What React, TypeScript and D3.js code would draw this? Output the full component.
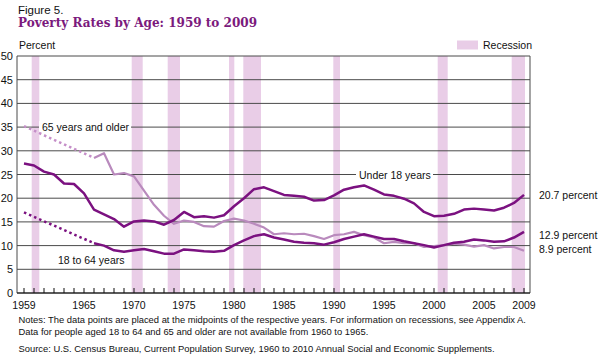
import React from "react";
import * as d3 from "d3";

const years = d3.range(1959, 2010);
const under18 = [27.3,26.9,25.6,25.0,23.1,23.0,21.0,17.6,16.6,15.6,14.0,15.1,15.3,15.1,14.4,15.4,17.1,16.0,16.2,15.9,16.4,18.3,20.0,21.9,22.3,21.5,20.7,20.5,20.3,19.5,19.6,20.6,21.8,22.3,22.7,21.8,20.8,20.5,19.9,18.9,17.1,16.2,16.3,16.7,17.6,17.8,17.6,17.4,18.0,19.0,20.7];
// 1966 onward (annual)
const years1864 = d3.range(1966, 2010);
const age1864 = [10.5,10.0,9.0,8.7,9.0,9.3,8.8,8.3,8.3,9.2,9.0,8.8,8.7,8.9,10.1,11.1,12.0,12.4,11.7,11.3,10.8,10.6,10.5,10.2,10.7,11.4,11.9,12.4,11.9,11.4,11.4,10.9,10.5,10.1,9.6,10.1,10.6,10.8,11.3,11.1,10.8,10.9,11.7,12.9];
const age65 = [28.5,29.5,25.0,25.3,24.6,21.6,18.6,16.3,14.6,15.3,15.0,14.1,14.0,15.2,15.7,15.3,14.6,13.8,12.4,12.6,12.4,12.5,12.0,11.4,12.2,12.4,12.9,12.2,11.7,10.5,10.8,10.5,10.5,9.7,9.9,10.1,10.4,10.2,9.8,10.1,9.4,9.7,9.7,8.9];
const age1864_1959 = 17.0;
const age65_1959 = 35.2;
const recessions: [number, number][] = [[1960.27,1961.03],[1970.27,1971.37],[1973.87,1975.1],[1980.0,1980.53],[1981.43,1983.2],[1990.43,1991.1],[2000.87,2001.87],[2008.27,2009.6]];
const yTicks = [0,5,10,15,20,25,30,35,40,45,50];
const xTickLabels = [1959,1965,1970,1975,1980,1985,1990,1995,2000,2005,2009];

const DARK = "#7b1180";
const LIGHT = "#b98abd";
const LIGHTDOT = "#c58ec8";
const BAND = "#e9cde7";
const GRID = "#4a4a4a";
const SANS = "'Liberation Sans', Arial, sans-serif";

export default function App() {
  const x = d3.scaleLinear().domain([1959, 2009]).range([24, 524]);
  const y = d3.scaleLinear().domain([0, 50]).range([293, 56]);
  const left = x(1958.3);
  const right = x(2009.6);
  const line = d3.line<[number, number]>().x(d => x(d[0])).y(d => y(d[1]));

  const u18: [number, number][] = years.map((yr, i) => [yr, under18[i]]);
  const a1864: [number, number][] = years1864.map((yr, i) => [yr, age1864[i]]);
  const a65: [number, number][] = years1864.map((yr, i) => [yr, age65[i]]);
  const dot1864: [number, number][] = [[1959, age1864_1959], [1966, age1864[0]]];
  const dot65: [number, number][] = [[1959, age65_1959], [1966, age65[0]]];

  return (
    <svg width={600} height={356} style={{ position: "absolute", left: 0, top: 0, background: "#fff" }}>
      <rect width={600} height={356} fill="#fff" />
      <text x={18} y={13.5} fontFamily={SANS} fontSize={11.5} fill="#111">Figure 5.</text>
      <text x={18} y={27} fontFamily="'DejaVu Serif', serif" fontWeight="bold" fontSize={13.5} fill="#7b1a7d" textLength={239} lengthAdjust="spacingAndGlyphs">Poverty Rates by Age: 1959 to 2009</text>
      <text x={19} y={49} fontFamily={SANS} fontSize={10.5} fill="#111">Percent</text>

      {/* legend */}
      <rect x={457} y={40.5} width={21} height={9} fill={BAND} />
      <text x={483} y={49} fontFamily={SANS} fontSize={10.5} fill="#111">Recession</text>

      {/* recession bands */}
      {recessions.map(([s, e], i) => (
        <rect key={i} x={x(s - 0.5)} y={y(50)} width={Math.min(x(e - 0.5), right) - x(s - 0.5)} height={y(0) - y(50)} fill={BAND} />
      ))}

      {/* gridlines */}
      {yTicks.map(t => (
        <g key={t}>
          <line x1={left} x2={right} y1={y(t)} y2={y(t)} stroke={GRID} strokeWidth={1} />
          <text x={13} y={y(t) + 4} textAnchor="end" fontFamily={SANS} fontSize={11} fill="#111">{t}</text>
        </g>
      ))}
      <line x1={left} x2={left} y1={y(50)} y2={y(0)} stroke={GRID} strokeWidth={1} />
      <line x1={right} x2={right} y1={y(50)} y2={y(0)} stroke={GRID} strokeWidth={1} />
      <line x1={left} x2={right} y1={y(0)} y2={y(0)} stroke="#111" strokeWidth={1} />

      {/* x ticks */}
      {years.map(yr => (
        <line key={yr} x1={x(yr)} x2={x(yr)} y1={y(0)} y2={y(0) - 5} stroke="#111" strokeWidth={1} />
      ))}
      {xTickLabels.map(yr => (
        <text key={yr} x={x(yr)} y={309} textAnchor="middle" fontFamily={SANS} fontSize={10.5} fill="#111">{yr}</text>
      ))}

      {/* label backgrounds on gridlines */}
      <rect x={39} y={y(35) - 6} width={92} height={12} fill="#fff" />
      <text x={42} y={y(35) + 4} fontFamily={SANS} fontSize={10.5} fill="#111">65 years and older</text>
      <rect x={356} y={y(25) - 6} width={77} height={12} fill="#fff" />
      <text x={359} y={y(25) + 4} fontFamily={SANS} fontSize={10.5} fill="#111">Under 18 years</text>
      <text x={58} y={264} fontFamily={SANS} fontSize={10.5} fill="#111">18 to 64 years</text>

      {/* lines */}
      <path d={line(dot65) || ""} fill="none" stroke={LIGHTDOT} strokeWidth={2.5} strokeDasharray="2.5,3" />
      <path d={line(a65) || ""} fill="none" stroke={LIGHT} strokeWidth={2.2} strokeLinejoin="round" />
      <path d={line(dot1864) || ""} fill="none" stroke={DARK} strokeWidth={2.5} strokeDasharray="2.5,3" />
      <path d={line(a1864) || ""} fill="none" stroke={DARK} strokeWidth={2.5} strokeLinejoin="round" />
      <path d={line(u18) || ""} fill="none" stroke={DARK} strokeWidth={2.5} strokeLinejoin="round" />

      {/* end labels */}
      <text x={539} y={y(20.7) + 4} fontFamily={SANS} fontSize={10.5} fill="#111">20.7 percent</text>
      <text x={539} y={238.5} fontFamily={SANS} fontSize={10.5} fill="#111">12.9 percent</text>
      <text x={539} y={253} fontFamily={SANS} fontSize={10.5} fill="#111">8.9 percent</text>

      {/* notes */}
      <text x={18.5} y={323} fontFamily={SANS} fontSize={9.4} fill="#111">Notes:  The data points are placed at the midpoints of the respective years. For information on recessions, see Appendix A.</text>
      <text x={18.5} y={335} fontFamily={SANS} fontSize={9.4} fill="#111">Data for people aged 18 to 64 and 65 and older are not available from 1960 to 1965.</text>
      <text x={18.5} y={352} fontFamily={SANS} fontSize={9.4} fill="#111">Source:  U.S. Census Bureau, Current Population Survey, 1960 to 2010 Annual Social and Economic Supplements.</text>
    </svg>
  );
}
